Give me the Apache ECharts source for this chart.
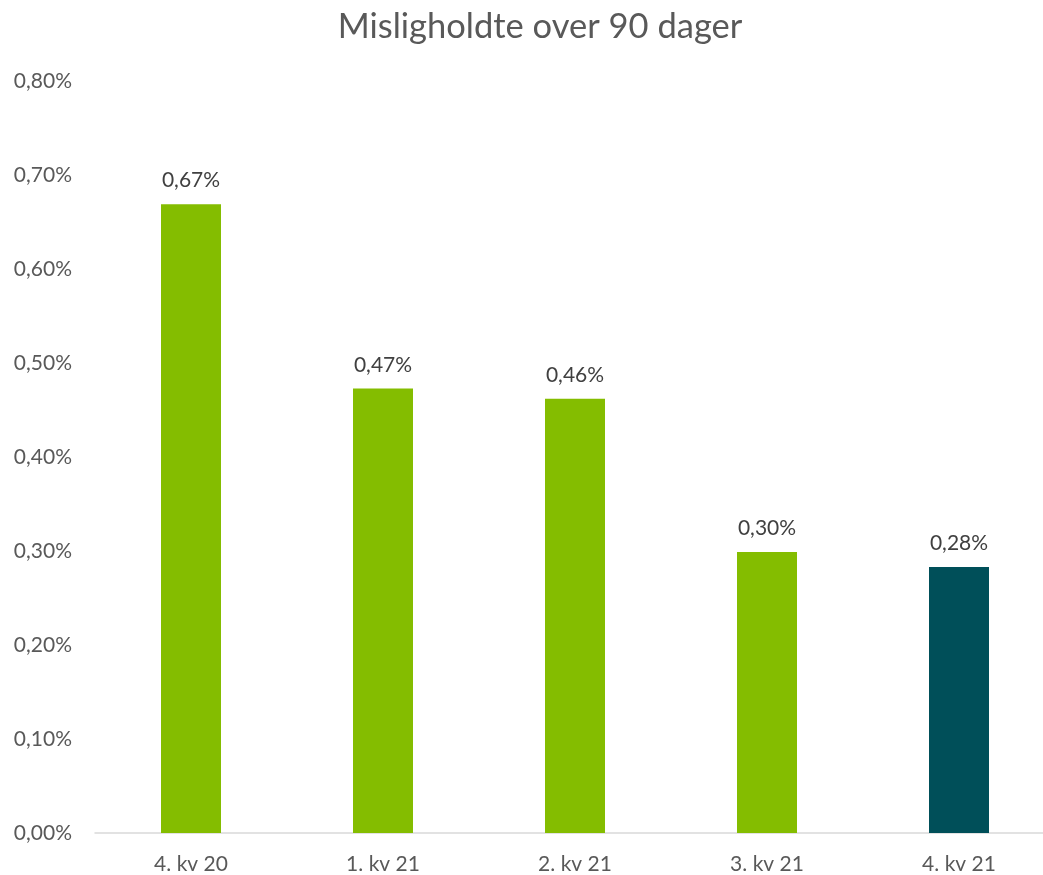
<!DOCTYPE html>
<html>
<head>
<meta charset="utf-8">
<script src="https://cdn.jsdelivr.net/npm/echarts@6/dist/echarts.min.js"></script>
<style>
  html, body { margin: 0; padding: 0; background: #ffffff; overflow: hidden; }
  /* plot area runs slightly past the right edge of the window */
  #chart { width: 1055px; height: 875px; }
</style>
</head>
<body>
<div id="chart"></div>
<script>
// Quarter labels along the x axis
const categories = ['4. kv 20', '1. kv 21', '2. kv 21', '3. kv 21', '4. kv 21'];
// Share of loans in default over 90 days, in percent
const values = [0.669, 0.473, 0.462, 0.299, 0.283];
// Bar colours: earlier quarters green, latest quarter dark teal
const barColors = ['#84BD00', '#84BD00', '#84BD00', '#84BD00', '#004F59'];
// Y axis range in percent
const yTicks = { min: 0, max: 0.8, interval: 0.1 };

const fmtPct = (v, d) => v.toFixed(d).replace('.', ',') + '%';
const font = 'Lato, "Open Sans", sans-serif';

const chart = echarts.init(document.getElementById('chart'), null, { renderer: 'canvas' });
chart.setOption({
  backgroundColor: '#ffffff',
  animation: false,
  graphic: [{
    type: 'text',
    x: 540,
    y: 27,
    style: {
      text: 'Misligholdte over 90 dager',
      align: 'center',
      verticalAlign: 'middle',
      font: '34.5px ' + font,
      fill: '#595959'
    }
  }],
  grid: { left: 95, top: 81, width: 960, height: 752, containLabel: false },
  xAxis: {
    type: 'category',
    data: categories,
    axisLine: { lineStyle: { color: '#d9d9d9', width: 1.5 } },
    axisTick: { show: false },
    axisLabel: { fontFamily: font, fontSize: 21, color: '#595959', margin: 21 }
  },
  yAxis: {
    type: 'value',
    min: yTicks.min,
    max: yTicks.max,
    interval: yTicks.interval,
    splitLine: { show: false },
    axisLine: { show: false },
    axisTick: { show: false },
    axisLabel: {
      fontFamily: font, fontSize: 21, color: '#595959', margin: 23,
      formatter: v => fmtPct(v, 2)
    }
  },
  series: [{
    type: 'bar',
    barWidth: 60,
    data: values.map((v, i) => ({ value: v, itemStyle: { color: barColors[i] } })),
    label: {
      show: true,
      position: 'top',
      distance: 13,
      fontFamily: font,
      fontSize: 21,
      color: '#404040',
      formatter: p => fmtPct(p.value, 2)
    }
  }]
});
</script>
</body>
</html>
